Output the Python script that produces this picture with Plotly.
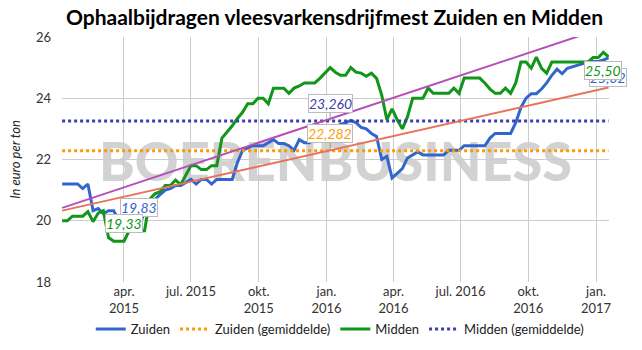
import pandas as pd
import plotly.graph_objects as go

# ---------------- data ----------------
start_date = "2015-01-07"
n_weeks = 107
dates = list(pd.date_range(start_date, periods=n_weeks, freq="7D"))

zuiden = [21.2, 21.2, 21.2, 21.2, 21.05, 21.2, 20.33, 20.4, 20.23, 20.33,
          20.33, 20.0, 19.9, 19.9, 19.85, 19.83, 20.3, 20.5, 20.7, 20.85,
          21.0, 21.05, 21.15, 21.15, 21.25, 21.35, 21.2, 21.35, 21.35, 21.2,
          21.35, 21.35, 21.35, 21.35, 21.9, 22.3, 22.38, 22.45, 22.45, 22.45,
          22.55, 22.65, 22.52, 22.52, 22.45, 22.3, 22.65, 22.55, 22.55, 22.7,
          22.75, 22.85, 22.95, 23.05, 23.15, 23.2, 23.28, 23.2, 23.05, 23.0,
          22.85, 22.75, 22.0, 22.1, 21.4, 21.55, 21.7, 22.05, 22.15, 22.25,
          22.15, 22.15, 22.15, 22.15, 22.15, 22.3, 22.3, 22.3, 22.45, 22.45,
          22.45, 22.45, 22.45, 22.7, 22.85, 22.85, 22.85, 22.85, 23.2, 23.7,
          24.0, 24.15, 24.15, 24.3, 24.5, 24.75, 24.95, 24.8, 24.98, 25.03,
          25.08, 25.15, 25.18, 25.2, 25.2, 25.25, 25.32]

midden = [20.0, 20.0, 20.15, 20.15, 20.15, 20.3, 19.97, 20.25, 20.33, 19.45,
          19.33, 19.33, 19.33, 19.67, 19.67, 19.67, 19.67, 20.7, 20.88, 20.95,
          21.15, 21.15, 21.33, 21.18, 21.48, 21.8, 21.8, 21.67, 21.67, 21.8,
          21.8, 22.7, 22.9, 23.1, 23.34, 23.54, 23.82, 23.82, 24.0, 24.0,
          23.82, 24.33, 24.33, 24.33, 24.16, 24.33, 24.4, 24.5, 24.5, 24.5,
          24.65, 24.82, 25.0, 24.85, 24.75, 24.75, 25.0, 24.85, 24.82, 24.72,
          24.82, 24.65, 24.1, 23.3, 23.65, 23.3, 23.0, 23.4, 24.0, 24.0,
          24.0, 24.33, 24.16, 24.16, 24.16, 24.16, 24.33, 24.16, 24.66, 24.66,
          24.66, 24.66, 24.5, 24.3, 24.16, 24.16, 24.33, 24.16, 24.5, 25.18,
          25.18, 24.98, 25.34, 24.98, 24.82, 25.18, 25.18, 25.18, 25.18, 25.18,
          25.18, 25.18, 25.18, 25.33, 25.33, 25.5, 25.35]

zuiden_avg = 22.282
midden_avg = 23.260

# trend line values at first and last week
trend_zuiden = [20.33, 24.35]
trend_midden = [20.42, 26.35]

tick_dates = ["2015-04-01", "2015-07-01", "2015-10-01", "2016-01-01",
              "2016-04-01", "2016-07-01", "2016-10-01", "2017-01-01"]
tick_labels = ["apr.<br>2015", "jul. 2015", "okt.<br>2015", "jan.<br>2016",
               "apr.<br>2016", "jul. 2016", "okt.<br>2016", "jan.<br>2017"]

assert len(zuiden) == n_weeks and len(midden) == n_weeks

# ---------------- styles ----------------
C_Z = "#3366cc"
C_ZA = "#ff9900"
C_M = "#109618"
C_MA = "#3b3eac"
C_TZ = "#e8735a"
C_TM = "#b84db8"
FONT = "Lato"


def nl(v, d=2):
    return f"{v:.{d}f}".replace(".", ",")


fig = go.Figure()

fig.add_trace(go.Scatter(x=dates, y=zuiden, mode="lines", name="Zuiden",
                         line=dict(color=C_Z, width=3)))
fig.add_trace(go.Scatter(x=dates, y=[zuiden_avg] * n_weeks, mode="lines",
                         name="Zuiden (gemiddelde)",
                         line=dict(color=C_ZA, width=3, dash="3px,3px")))
fig.add_trace(go.Scatter(x=dates, y=midden, mode="lines", name="Midden",
                         line=dict(color=C_M, width=3)))
fig.add_trace(go.Scatter(x=dates, y=[midden_avg] * n_weeks, mode="lines",
                         name="Midden (gemiddelde)",
                         line=dict(color=C_MA, width=3, dash="3px,3px")))
fig.add_trace(go.Scatter(x=[dates[0], dates[-1]], y=trend_zuiden, mode="lines",
                         showlegend=False, hoverinfo="skip",
                         line=dict(color=C_TZ, width=2)))
fig.add_trace(go.Scatter(x=[dates[0], dates[-1]], y=trend_midden, mode="lines",
                         showlegend=False, hoverinfo="skip",
                         line=dict(color=C_TM, width=2)))

# ---------------- annotations ----------------
def box_ann(x, y, text, color, yshift, xshift=0):
    return dict(x=x, y=y, xref="x", yref="y", text=f"<i>{text}</i>",
                showarrow=False, yshift=yshift, xshift=xshift,
                font=dict(family=FONT, size=14, color=color),
                bgcolor="white", bordercolor="#bbbbbb", borderwidth=1,
                borderpad=0)

zmin = min(zuiden)
i_zmin = max(i for i, v in enumerate(zuiden) if v == zmin)
mmin = min(midden)
i_mmin = max(i for i, v in enumerate(midden) if v == mmin)
zmax = max(zuiden)
i_zmax = max(i for i, v in enumerate(zuiden) if v == zmax)
mmax = max(midden)
i_mmax = max(i for i, v in enumerate(midden) if v == mmax)
i_mid = 52

anns = [
    box_ann(dates[i_zmin], zmin, nl(zmin), C_Z, 18, 0),
    box_ann(dates[i_mmin], mmin, nl(mmin), C_M, 18),
    box_ann(dates[i_zmax], zmax, nl(zmax), C_Z, -20, -1),
    box_ann(dates[i_mmax], mmax, nl(mmax), C_M, -18),
]
for avg, col in [(midden_avg, C_MA), (zuiden_avg, C_ZA)]:
    anns.append(dict(x=dates[i_mid], y=avg, xref="x", yref="y",
                     text=f"<i>{nl(avg, 3)}</i>", showarrow=True,
                     arrowhead=0, arrowwidth=1, arrowcolor="#999999",
                     ax=0, ay=-17,
                     font=dict(family=FONT, size=14, color=col),
                     bgcolor="white", bordercolor="#bbbbbb", borderwidth=1,
                     borderpad=0))

fig.update_layout(
    width=642, height=350,
    margin=dict(l=62, r=33, t=37, b=68, autoexpand=False),
    paper_bgcolor="white", plot_bgcolor="white",
    font=dict(family=FONT, size=13, color="#333333"),
    title=dict(text="<b>Ophaalbijdragen vleesvarkensdrijfmest Zuiden en Midden</b>",
               font=dict(family=FONT, size=21, color="#000000"),
               x=0.521, xref="container", xanchor="center",
               y=0.949, yref="container", yanchor="middle"),
    showlegend=True,
    legend=dict(orientation="h", xref="container", yref="container",
                x=0.53, xanchor="center", y=0.06, yanchor="middle",
                font=dict(family=FONT, size=13, color="#222222"),
                bgcolor="rgba(0,0,0,0)"),
    annotations=anns,
    shapes=[dict(type="rect", xref="paper", yref="paper", x0=0, x1=1,
                 y0=0, y1=1, layer="below", line=dict(width=0),
                 fillcolor="rgba(0,0,0,0)",
                 label=dict(text="BOERENBUSINESS", textposition="middle center",
                            font=dict(family="Lato", size=54,
                                      color="#d2d2d2", weight=900)))],
)

fig.update_xaxes(type="date", automargin=False,
                 range=["2015-01-06 20:00", "2017-01-18 15:00"],
                 tickvals=tick_dates, ticktext=tick_labels,
                 showgrid=True, gridcolor="#cccccc", gridwidth=1,
                 zeroline=False, showline=False, ticks="",
                 tickfont=dict(family=FONT, size=13, color="#333333"))
fig.update_yaxes(range=[18, 26], tick0=18, dtick=2, automargin=False,
                 showgrid=True, gridcolor="#cccccc", gridwidth=1,
                 zeroline=False, showline=False, ticks="",
                 ticklabelstandoff=10,
                 tickfont=dict(family=FONT, size=13, color="#333333"),
                 title=dict(text="<i>In euro per ton</i>", standoff=12,
                            font=dict(family=FONT, size=13, color="#222222")))

fig.write_html("out.html")
